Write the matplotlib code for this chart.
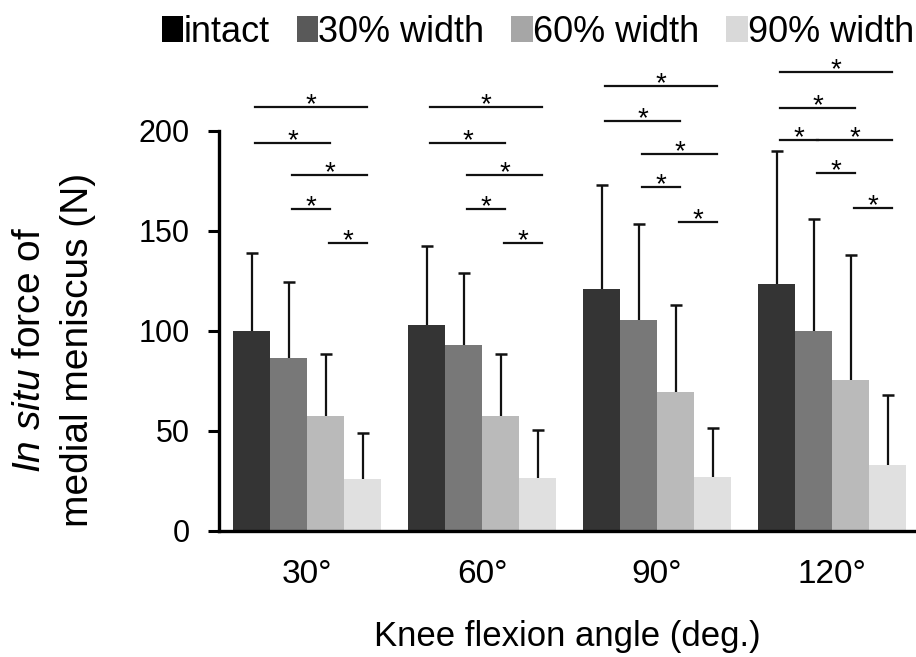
import numpy as np
import matplotlib
matplotlib.use('Agg')
import matplotlib.pyplot as plt
from matplotlib.patches import Patch

plt.rcParams['font.family'] = ['Liberation Sans', 'DejaVu Sans']
plt.rcParams['mathtext.fontset'] = 'custom'
plt.rcParams['mathtext.rm'] = 'Liberation Sans'
plt.rcParams['mathtext.it'] = 'Liberation Sans:italic'

# 資料
angles = ['30°', '60°', '90°', '120°']
groups = ['intact', '30% width', '60% width', '90% width']
intact = [100, 103, 121, 123.5]
w30 = [86.5, 93, 105.3, 100]
w60 = [57.7, 57.7, 69.7, 75.5]
w90 = [25.8, 26.3, 26.8, 33]
intact_sd = [39, 39.5, 52, 66.7]
w30_sd = [38.2, 35.8, 48, 56.2]
w60_sd = [30.8, 31, 43.3, 62.5]
w90_sd = [23, 24.4, 24.9, 35]

# 顯著差異: (角度 index, 組別 i, 組別 j, 高度)
sig = [
    (0, 0, 3, 212), (0, 0, 2, 194), (0, 1, 3, 178), (0, 1, 2, 161), (0, 2, 3, 144),
    (1, 0, 3, 212), (1, 0, 2, 194), (1, 1, 3, 178), (1, 1, 2, 161), (1, 2, 3, 144),
    (2, 0, 3, 222.5), (2, 0, 2, 205), (2, 1, 3, 188.5), (2, 1, 2, 172), (2, 2, 3, 154.5),
    (3, 0, 3, 229.5), (3, 0, 2, 211.5), (3, 0, 1, 195.5), (3, 1, 3, 195.5),
    (3, 1, 2, 179), (3, 2, 3, 161.5),
]

bar_colors = ['#343434', '#787878', '#bababa', '#e0e0e0']
legend_colors = ['#000000', '#595959', '#a6a6a6', '#d9d9d9']

values = [intact, w30, w60, w90]
sds = [intact_sd, w30_sd, w60_sd, w90_sd]

fig = plt.figure(figsize=(9.16, 6.57), dpi=100)
ax = fig.add_axes([219 / 916, 126 / 657, 697 / 916, 400 / 657])

x = np.arange(len(angles))
w = 37 / 175
offsets = (np.arange(4) - 1.5) * w

for k in range(4):
    xs = x + offsets[k]
    top = np.array(values[k]) + np.array(sds[k])
    ax.bar(xs, values[k], width=w, color=bar_colors[k], zorder=2)
    # 只畫上方誤差線
    ax.vlines(xs, values[k], top, color='#111111', lw=1.6, zorder=3)
    ax.plot(xs, top, ls='none', marker='_', ms=8, mew=1.8, color='#111111', zorder=3)

# 顯著線與星號
for g, i, j, h in sig:
    x0 = x[g] + offsets[i] + 0.02
    x1 = x[g] + offsets[j] + 0.025
    ax.plot([x0, x1], [h, h], color='#111111', lw=1.6, clip_on=False, zorder=4)
    ax.text((x0 + x1) / 2, h - 2.5, '*', ha='center', va='baseline', fontsize=20,
            clip_on=False)

ax.set_xlim(-0.503, 3.48)
ax.set_ylim(0, 200)
ax.set_yticks([0, 50, 100, 150, 200])
ax.set_xticks(x)
ax.set_xticklabels(angles)
ax.tick_params(axis='x', length=0, pad=20, labelsize=24)
ax.tick_params(axis='y', length=8, width=2.2, pad=13, labelsize=22)
for s in ['top', 'right']:
    ax.spines[s].set_visible(False)
ax.spines['left'].set_linewidth(2.4)
ax.spines['bottom'].set_linewidth(2.4)

fig.text(567 / 916, 1 - 646 / 657, 'Knee flexion angle (deg.)', ha='center',
         va='baseline', fontsize=25)
fig.text(54 / 916, 1 - 350 / 657, r'$\it{In\ situ}$ force of' + '\nmedial meniscus (N)',
         rotation=90, ha='center', va='center', fontsize=28, linespacing=1.4)

handles = [Patch(facecolor=c) for c in legend_colors]
fig.legend(handles, groups, loc='center', bbox_to_anchor=(538 / 916, 1 - 32 / 657), ncol=4,
           frameon=False, fontsize=26, handlelength=0.6, handleheight=0.75,
           handletextpad=0.0, columnspacing=0.75, borderpad=0, borderaxespad=0)

fig.savefig('out.png', dpi=100)
